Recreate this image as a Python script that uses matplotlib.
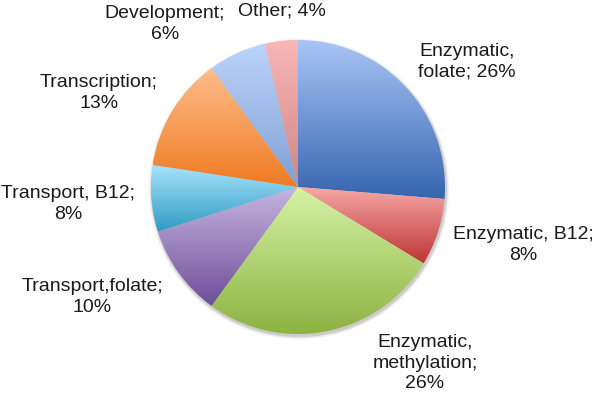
import numpy as np
import matplotlib
matplotlib.use('Agg')
import matplotlib.pyplot as plt
from matplotlib.colors import to_rgb

categories = ['Enzymatic,\nfolate', 'Enzymatic, B12', 'Enzymatic,\nmethylation',
              'Transport,folate', 'Transport, B12', 'Transcription',
              'Development', 'Other']
shares = [26.3, 7.4, 26.3, 10.1, 7.3, 12.6, 6.4, 3.6]
pct_labels = ['26%', '8%', '26%', '10%', '8%', '13%', '6%', '4%']
label_text = ['Enzymatic,\nfolate; 26%', 'Enzymatic, B12;\n8%',
              'Enzymatic,\nmethylation;\n26%', 'Transport,folate;\n10%',
              'Transport, B12;\n8%', 'Transcription;\n13%',
              'Development;\n6%', 'Other; 4%']

# gradient colours, top -> bottom of each wedge
top_colors = ['#a9c5f5', '#f7a9a7', '#d6f2a6', '#c7b5e1',
              '#a6e3fc', '#fdbd8b', '#bcd4fb', '#f9b7b7']
bottom_colors = ['#3565b0', '#be3434', '#8db341', '#6d4e97',
                 '#2f9bc1', '#f07a22', '#7f9fd3', '#cf8585']

W, H = 600, 397
label_pos = [(467, 62), (523, 245), (425, 363), (92, 297),
             (68, 204), (99, 93), (165, 24), (282, 11)]

fig = plt.figure(figsize=(6, 3.97), dpi=100)
ax = fig.add_axes([0, 0, 1, 1])

cx, cy, r = 298, H - 187, 147

# soft shadow under the pie
for k, a in zip(range(6, 0, -1), [0.015, 0.02, 0.03, 0.04, 0.05, 0.06]):
    ax.add_patch(plt.Circle((cx + 1, cy - 2), r + k * 0.6, color='black',
                            alpha=a, lw=0, zorder=0))

wedges, _ = ax.pie(shares, startangle=90, counterclock=False,
                   center=(cx, cy), radius=r, frame=True,
                   wedgeprops=dict(linewidth=0))

for w, tc, bc in zip(wedges, top_colors, bottom_colors):
    w.set_facecolor('none')
    path = w.get_patch_transform().transform_path(w.get_path())
    ext = path.get_extents()
    t = np.linspace(0, 1, 256)[:, None]
    img = (1 - t) * np.array(to_rgb(bc)) + t * np.array(to_rgb(tc))
    img = img[:, None, :]
    im = ax.imshow(img, extent=(ext.x0, ext.x1, ext.y0, ext.y1),
                   origin='lower', aspect='auto', interpolation='bilinear',
                   zorder=1)
    im.set_clip_path(w)

ax.set_xlim(0, W)
ax.set_ylim(0, H)
ax.set_aspect('equal')
ax.axis('off')

for txt, (x, y) in zip(label_text, label_pos):
    ax.text(x, H - y, txt, ha='center', va='center', fontsize=14,
            family='Liberation Sans', color='#1a1a1a', linespacing=1.3)

fig.savefig('out.png', dpi=100)
